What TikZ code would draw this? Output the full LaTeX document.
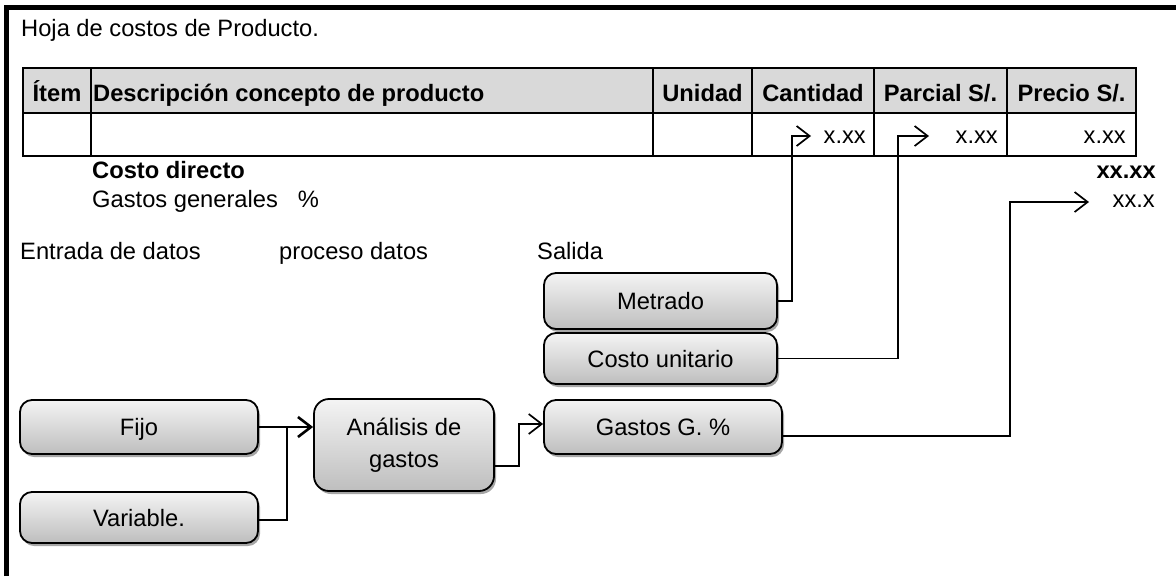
\documentclass[tikz,border=0pt]{standalone}
\usepackage{fontspec}
\setmainfont{Liberation Sans}
\usetikzlibrary{arrows.meta,shadows,calc}
\definecolor{hdr}{RGB}{217,217,217}
\definecolor{boxtop}{RGB}{244,244,244}
\definecolor{boxbot}{RGB}{190,190,190}
\begin{document}
\begin{tikzpicture}[x=1pt,y=-1pt,
  txt/.style={inner sep=0pt, font=\fontsize{23.7}{32}\selectfont},
  btxt/.style={inner sep=0pt, font=\fontsize{23.7}{32}\selectfont\bfseries},
  gridline/.style={line width=1.8pt, draw=black},
  procbox/.style={draw=black, line width=1.8pt, rounded corners=12pt,
    top color=boxtop, bottom color=boxbot,
    drop shadow={shadow xshift=2pt, shadow yshift=-3pt, opacity=0.35, fill=black},
    align=center, inner sep=0pt, font=\fontsize{23.7}{32}\selectfont},
  onebox/.style={procbox, text height=17pt, text depth=0pt},
  conn/.style={line width=1.7pt, -{Straight Barb[length=13pt,width=20pt]}},
  plainline/.style={line width=1.7pt}
]
\useasboundingbox (0,0) rectangle (1176,576);
\fill[white] (0,0) rectangle (1176,576);
% outer frame (only top and left visible)
\draw[line width=5pt, line join=miter] (6.5,576) -- (6.5,7.5) -- (1176,7.5);

% title
\node[txt, anchor=base west] (title) at (21,36) {Hoja de costos de Producto.};

% table
\fill[hdr] (23,68) rectangle (1136,113);
\draw[gridline] (23,68) rectangle (1136,156);
\draw[gridline] (23,113) -- (1136,113);
\foreach \cx in {91,653,752,874,1007} \draw[gridline] (\cx,68) -- (\cx,156);

\node[btxt, anchor=base] (hItem) at (57,101) {Ítem};
\node[btxt, anchor=base west] (hDesc) at (93,101) {Descripción concepto de producto};
\node[btxt, anchor=base] (hUni) at (702.5,101) {Unidad};
\node[btxt, anchor=base] (hCant) at (813,101) {Cantidad};
\node[btxt, anchor=base] (hParc) at (940.5,101) {Parcial S/.};
\node[btxt, anchor=base] (hPrec) at (1071.5,101) {Precio S/.};

\node[txt, anchor=base east] (vCant) at (866,143) {x.xx};
\node[txt, anchor=base east] (vParc) at (998,143) {x.xx};
\node[txt, anchor=base east] (vPrec) at (1126,143) {x.xx};

\node[btxt, anchor=base west] (cd) at (92,178) {Costo directo};
\node[btxt, anchor=base east] (cdv) at (1156,178) {xx.xx};
\node[txt, anchor=base west] (ggt) at (92,207) {Gastos generales\hspace{20pt}\%};
\node[txt, anchor=base east] (ggv) at (1155,207) {xx.x};

\node[txt, anchor=base west] (lin) at (20,259) {Entrada de datos};
\node[txt, anchor=base west] (lproc) at (279,259) {proceso datos};
\node[txt, anchor=base west] (lout) at (537,259) {Salida};

% boxes
\node[onebox, minimum width=233pt, minimum height=56pt] (met) at (660.5,301) {Metrado};
\node[onebox, minimum width=233pt, minimum height=51pt] (cu) at (660.5,358.5) {Costo unitario};
\node[onebox, minimum width=238pt, minimum height=54pt] (gas) at (663,427) {Gastos G. \%};
\node[procbox, minimum width=180pt, minimum height=92pt, rounded corners=15pt] (ana) at (404,445) {Análisis de\\gastos};
\node[onebox, minimum width=238pt, minimum height=54pt] (fijo) at (139,427) {Fijo};
\node[onebox, minimum width=238pt, minimum height=51pt] (var) at (139,517.5) {Variable.};

% arrow targets
\coordinate (tCant) at (811,136);
\coordinate (tParc) at (929,136);
\coordinate (tGG) at (1089,202);
\coordinate (jn) at ($(fijo.east)+(28,0)$);

% connectors
\draw[conn] (met.east) -- ++(14,0) |- (tCant);
\draw[conn] (cu.east) -- ++(120,0) |- (tParc);
\draw[conn] ([yshift=-9pt]gas.east) -- ++(227,0) |- (tGG);
\draw[conn] ([yshift=-21pt]ana.east) -- ++(24,0) |- ([yshift=3pt]gas.west);
\draw[conn, line width=2.6pt] (fijo.east) -- (ana.west |- fijo.east);
\draw[plainline] ([yshift=-2.5pt]var.east) -| (jn);
\end{tikzpicture}
\end{document}
